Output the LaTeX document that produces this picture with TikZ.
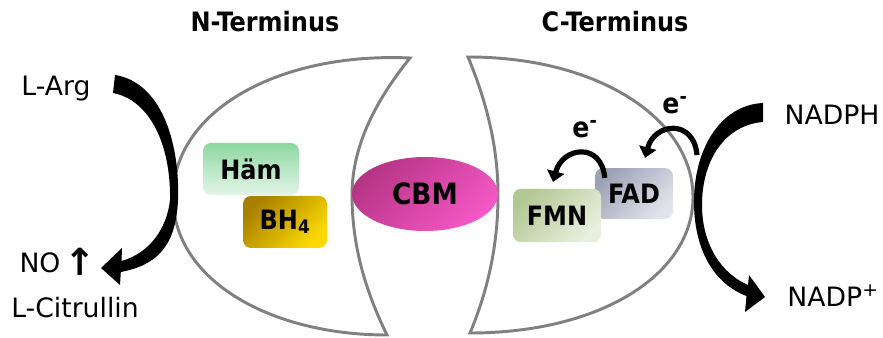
\documentclass[tikz,border=0pt]{standalone}
\usepackage{fontspec}
\setmainfont{DejaVu Sans}
\newfontfamily\condfont{DejaVu Sans Condensed}
\usepackage{tikz}
\usepackage{xcolor}
\usetikzlibrary{arrows.meta,shapes.geometric}

\definecolor{domaingray}{RGB}{128,128,128}
\definecolor{haemtop}{RGB}{140,216,160}
\definecolor{haembot}{RGB}{228,245,232}
\definecolor{bhtop}{RGB}{168,128,0}
\definecolor{bhbot}{RGB}{252,218,0}
\definecolor{cbmtop}{RGB}{182,52,132}
\definecolor{cbmbot}{RGB}{246,88,198}
\definecolor{fmntop}{RGB}{178,200,148}
\definecolor{fmnbot}{RGB}{232,239,222}
\definecolor{fadtop}{RGB}{156,162,182}
\definecolor{fadbot}{RGB}{226,228,236}

\begin{document}
\begin{tikzpicture}[x=0.75pt,y=-0.75pt,
  lbl/.style={font=\fontsize{20}{24}\selectfont, inner sep=0pt, anchor=base},
  ttl/.style={font=\condfont\fontsize{20}{24}\selectfont\bfseries, inner sep=0pt, anchor=base},
  elbl/.style={font=\condfont\fontsize{21}{24}\selectfont\bfseries, inner sep=0pt, anchor=base},
  cofactor/.style n args={3}{top color=#1, bottom color=#2, shading angle=#3,
    rounded corners=6pt, inner sep=0pt, font=\condfont\fontsize{20}{24}\selectfont\bfseries},
  termshape/.style={draw=domaingray, line width=2.2pt, fill=white, line join=miter},
  earrow/.style={line width=3.9pt, -{Triangle[length=8pt,width=13pt]}, looseness=1.8}]
\useasboundingbox (0,0) rectangle (883,338);

%Shape: N-Terminus domain
\draw [termshape] (410,58) .. controls (280,52) and (173,110) .. (173,197) .. controls (173,280) and (270,335) .. (387,335) .. controls (365,290) and (352,245) .. (352,195) .. controls (352,150) and (372,105) .. (410,58) -- cycle ;
%Shape: C-Terminus domain
\draw [termshape] (468,57) .. controls (600,57) and (693,120) .. (693,197) .. controls (693,275) and (600,333) .. (470,333) .. controls (488,290) and (498,245) .. (498,195) .. controls (498,150) and (488,105) .. (468,57) -- cycle ;

%Shape: big arrow L-Arg to L-Citrullin
\fill (115,75) .. controls (160,82) and (180,140) .. (178,200) .. controls (176,245) and (158,265) .. (120.8,272) -- (120,285) -- (101,268) -- (122,248) -- (121.5,261) .. controls (150,253) and (167,228) .. (170,200) .. controls (171,145) and (150,100) .. (113,93) -- cycle ;
%Shape: big arrow NADPH to NADP+
\fill (763,103) .. controls (720,105) and (693,150) .. (694,205) .. controls (695,252) and (715,284) .. (746.5,296) -- (745,312) -- (765,297) -- (749,275) -- (748,285) .. controls (722,274) and (702,245) .. (702,205) .. controls (702,160) and (725,125) .. (763,122) -- cycle ;

% Cofactors
\node (cbm) [ellipse, minimum width=109.5pt, minimum height=55.5pt, inner sep=0pt,
  top color=cbmtop, bottom color=cbmbot, shading angle=45,
  font=\condfont\fontsize{22}{26}\selectfont\bfseries] at (425,194) {CBM};
\node (haem) [cofactor={haemtop}{haembot}{0}, minimum width=72pt, minimum height=39pt] at (251,169) {Häm};
\node (bh) [cofactor={bhtop}{bhbot}{45}, minimum width=63pt, minimum height=39pt] at (285,222) {BH\textsubscript{4}};
\node (fad) [cofactor={fadtop}{fadbot}{45}, minimum width=58.5pt, minimum height=38pt] at (634,193.5) {FAD};
\node (fmn) [cofactor={fmntop}{fmnbot}{45}, minimum width=66pt, minimum height=40pt] at (557,215.5) {FMN};

% electron transfer
\coordinate (etail) at (697,155);
\draw [earrow] ([xshift=7.5pt,yshift=-7.5pt]fad.north west) to[out=95,in=75] ([xshift=-3pt,yshift=5pt]fmn.north);
\draw [earrow] (etail) to[out=95,in=75] ([xshift=8.25pt,yshift=7.5pt]fad.north);

% Text Node
\node (e1) [elbl] at (585,138) {e\textsuperscript{-}};
% Text Node
\node (e2) [elbl] at (675,114) {e\textsuperscript{-}};
% Text Node
\node (nterm) [ttl] at (265,32) {N-Terminus};
% Text Node
\node (cterm) [ttl] at (615,32) {C-Terminus};
% Text Node
\node (larg) [lbl] at (56,96) {L-Arg};
% Text Node
\node (no) [lbl] at (40,273) {NO};
% Text Node
\node (noup) [font=\fontsize{28}{32}\selectfont\bfseries, inner sep=0pt] at (80,262) {↑};
% Text Node
\node (citr) [lbl] at (75,318) {L-Citrullin};
% Text Node
\node (nadph) [lbl] at (832,125) {NADPH};
% Text Node
\node (nadp) [lbl] at (833,307) {NADP\textsuperscript{+}};

\end{tikzpicture}
\end{document}
